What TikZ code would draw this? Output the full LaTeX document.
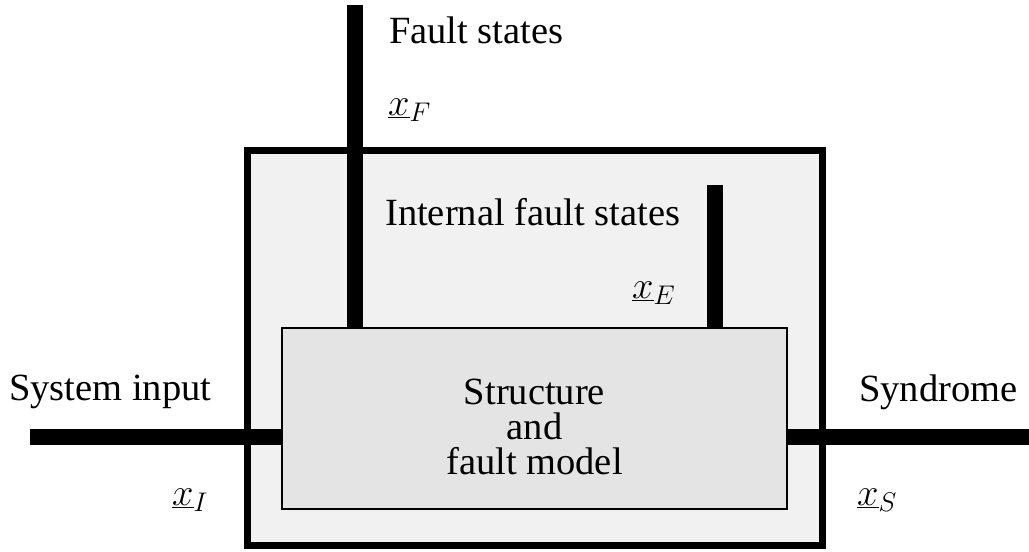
\documentclass[tikz,border=0pt]{standalone}
\usepackage{fix-cm}
\usepackage{fontspec}
\setmainfont{Liberation Serif}
\definecolor{outerfill}{HTML}{F1F1F1}
\definecolor{innerfill}{HTML}{E4E4E4}
\begin{document}
\begin{tikzpicture}[x=1pt,y=-1pt,
  every node/.style={font=\fontsize{38.5}{35}\selectfont, inner sep=0pt},
  sysbox/.style={draw=black, line width=7pt, fill=outerfill, minimum width=575pt, minimum height=395pt},
  modelbox/.style={draw=black, line width=2pt, fill=innerfill, minimum width=505pt, minimum height=181pt},
  signal/.style={line width=16pt, line cap=butt},
  lbl/.style={anchor=west}]
\useasboundingbox (0,0) rectangle (1029,552);

% enclosing system
\node[sysbox] (sys) at (534.5,347.5) {};

% structure and fault model
\node[modelbox] (model) at (534.5,418.5) {};
\node[align=center] (modeltext) at ([yshift=-8.5pt]model.center) {Structure\\and\\fault model};

% signal terminals
\coordinate (Ftop) at (355,5);
\coordinate (Etop) at (715,185);
\coordinate (Iend) at (30,437);
\coordinate (Send) at (1029,437);

% signal bars into the model
\draw[signal] (Ftop) -- (Ftop |- model.north);
\draw[signal] (Etop) -- (Etop |- model.north);
\draw[signal] (Iend) -- (Iend -| model.west);
\draw[signal] (Send) -- (Send -| model.east);

% labels
\node[lbl] (fs) at (389,30) {Fault states};
\node[lbl] (xF) at (388,110) {$\underline{x}_F$};
\node[lbl] (ifs) at (385,212) {Internal fault states};
\node[lbl] (xE) at (632,293) {$\underline{x}_E$};
\node[lbl] (si) at (9,392) {System input};
\node[lbl] (syn) at (859,392) {Syndrome};
\node[lbl] (xI) at (172,500) {$\underline{x}_I$};
\node[lbl] (xS) at (857,500) {$\underline{x}_S$};
\end{tikzpicture}
\end{document}
